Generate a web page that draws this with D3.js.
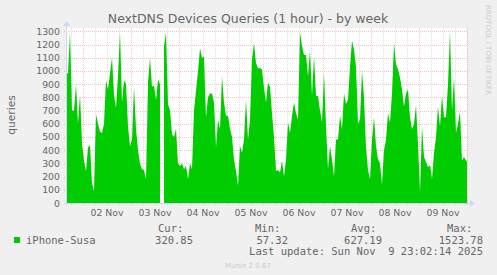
<!DOCTYPE html>
<html>
<head>
<meta charset="utf-8">
<title>NextDNS Devices Queries</title>
<script src="https://cdn.jsdelivr.net/npm/d3@7"></script>
<style>
  * { margin: 0; padding: 0; }
  body { background: #F0F0F0; }
  svg { display: block; }
  text { font-family: "DejaVu Sans", sans-serif; fill: #666; }
  .mono { font-family: "DejaVu Sans Mono", monospace; }
</style>
</head>
<body>
<div id="chart"></div>
<script>
// hourly samples, first one at 01 Nov 16:00 (null = no data)
var startTime = Date.UTC(2025, 10, 1, 16);
var queries = [
  980, 1290, 700, 700, 900, 600, 820, 450, 320, 240,
  420, 440, 150, 90, 670, 600, 540, 530, 600, 930,
  860, 980, 1100, 820, 720, 960, 1290, 760, 930, 900,
  580, 430, 480, 880, 560, 400, 300, 255, 250, 180,
  910, 1100, 880, 890, 780, 935, 900, null, 1190, 1290,
  750, 700, 520, 500, 560, 300, 280, 300, 255, 280,
  180, 300, 255, 700, 850, 1000, 1170, 1100, 1110, 650,
  800, 830, 830, 760, 420, 630, 560, 960, 760, 660,
  660, 560, 500, 330, 240, 130, 430, 380, 480, 780,
  480, 630, 1090, 1210, 1060, 1020, 1020, 1010, 870, 760,
  910, 880, 680, 500, 240, 250, 230, 320, 200, 330,
  610, 530, 660, 760, 680, 630, 1290, 1190, 1120, 1120,
  960, 1150, 810, 1110, 810, 810, 700, 610, 985, 580,
  255, 430, 330, 200, 480, 480, 660, 560, 830, 750,
  780, 1030, 1230, 1160, 1030, 600, 630, 1000, 800, 420,
  250, 180, 480, 650, 430, 330, 300, 140, 400, 480,
  680, 610, 830, 1210, 1050, 1010, 950, 860, 730, 830,
  860, 650, 560, 600, 740, 450, 80, 580, 350, 310,
  270, 290, 180, 380, 500, 730, 580, 810, 650, 650,
  900, 1300, 700, 950, 530, 600, 690, 320, 350, 320
];
var yTicks = d3.range(0, 1301, 100);
var dayLabels = ["02 Nov", "03 Nov", "04 Nov", "05 Nov", "06 Nov", "07 Nov", "08 Nov", "09 Nov"];
var legendHead = ["Cur:", "Min:", "Avg:", "Max:"];
var legendVals = ["320.85", "57.32", "627.19", "1523.78"];

var W = 497, H = 275;
var pLeft = 67, pRight = 467, pTop = 28, pBottom = 203;

var svg = d3.select("#chart").append("svg")
    .attr("width", W).attr("height", H);

var x = d3.scaleUtc()
    .domain([new Date(startTime), new Date(startTime + queries.length * 3600e3)])
    .range([pLeft, pRight]);
var y = d3.scaleLinear().domain([0, 1325]).range([pBottom, pTop]);

// each sample sits in the middle of its hour
var pts = queries.map(function(v, i){ return {t: new Date(startTime + (i + 0.5) * 3600e3), v: v}; });
pts.unshift({t: x.domain()[0], v: queries[0]});
pts.push({t: x.domain()[1], v: queries[queries.length - 1]});

// canvas
svg.append("rect").attr("x", pLeft).attr("y", pTop)
   .attr("width", pRight - pLeft).attr("height", pBottom - pTop).attr("fill", "#fff");

// minor vertical grid (every 6h)
var g = svg.append("g");
g.selectAll("line.vmin").data(x.ticks(d3.utcHour.every(6)).filter(function(d){ return d.getUTCHours() != 0; }))
  .enter().append("line")
  .attr("x1", function(d){ return Math.round(x(d)) + 0.5; })
  .attr("x2", function(d){ return Math.round(x(d)) + 0.5; })
  .attr("y1", pTop).attr("y2", pBottom + 2)
  .attr("stroke", "rgba(143,143,143,0.3)").attr("stroke-dasharray", "1,1");

// major vertical grid (midnight)
var days = x.ticks(d3.utcDay.every(1));
g.selectAll("line.vmaj").data(days).enter().append("line")
  .attr("x1", function(d){ return Math.round(x(d)) + 0.5; })
  .attr("x2", function(d){ return Math.round(x(d)) + 0.5; })
  .attr("y1", pTop).attr("y2", pBottom + 3)
  .attr("stroke", "rgba(222,48,48,0.3)").attr("stroke-dasharray", "1,1");

// horizontal grid
g.selectAll("line.h").data(yTicks).enter().append("line")
  .attr("x1", pLeft - 3).attr("x2", pRight)
  .attr("y1", function(d){ return Math.round(y(d)) + 0.5; })
  .attr("y2", function(d){ return Math.round(y(d)) + 0.5; })
  .attr("stroke", "rgba(222,48,48,0.3)").attr("stroke-dasharray", "1,1");

// area
var area = d3.area()
    .defined(function(d){ return d.v != null; })
    .x(function(d){ return x(d.t); })
    .y0(y(0))
    .y1(function(d){ return y(Math.min(d.v, 1325)); });
svg.append("path").datum(pts).attr("d", area).attr("fill", "#00CC00");

// axes
var axisCol = "#CFD6F8";
svg.append("line").attr("x1", pLeft - 3).attr("x2", pRight + 4)
   .attr("y1", pBottom + 0.5).attr("y2", pBottom + 0.5).attr("stroke", axisCol);
svg.append("path").attr("d", "M" + (pRight + 3) + "," + (pBottom - 3) + "L" + (pRight + 8) + "," + (pBottom + 0.5) + "L" + (pRight + 3) + "," + (pBottom + 4) + "Z")
   .attr("fill", axisCol);
svg.append("line").attr("x1", pLeft - 0.5).attr("x2", pLeft - 0.5)
   .attr("y1", pBottom + 3).attr("y2", pTop - 3).attr("stroke", axisCol);
svg.append("path").attr("d", "M" + (pLeft - 4) + "," + (pTop - 2) + "L" + (pLeft - 0.5) + "," + (pTop - 7) + "L" + (pLeft + 3) + "," + (pTop - 2) + "Z")
   .attr("fill", axisCol);

// y labels
svg.append("g").selectAll("text").data(yTicks).enter().append("text")
  .attr("x", pLeft - 7).attr("y", function(d){ return y(d) + 3.5; })
  .attr("text-anchor", "end").attr("font-size", "9.33px")
  .text(function(d){ return d; });

// x labels at noon
svg.append("g").selectAll("text").data(dayLabels).enter().append("text")
  .attr("x", function(d, i){ return x(d3.utcHour.offset(days[i], 12)); })
  .attr("y", 216).attr("text-anchor", "middle").attr("font-size", "9.33px")
  .text(function(d){ return d; });

// title
svg.append("text").attr("x", 248).attr("y", 23).attr("text-anchor", "middle")
   .attr("font-size", "12.5px").text("NextDNS Devices Queries (1 hour) - by week");

// y axis title
svg.append("text").attr("transform", "translate(15,115) rotate(-90)")
   .attr("text-anchor", "middle").attr("font-size", "10.7px").text("queries");

// watermark
svg.append("text").attr("transform", "translate(486,5) rotate(90)")
   .attr("font-size", "7px").style("fill", "#ccc").text("RRDTOOL / TOBI OETIKER");

// legend
svg.append("rect").attr("x", 14).attr("y", 237).attr("width", 6).attr("height", 6).attr("fill", "#00CC00");
svg.append("text").attr("class", "mono").attr("x", 26).attr("y", 244)
   .attr("font-size", "10.5px").text("iPhone-Susa");
var headX = [158, 255, 351, 447];
var valEnd = [193, 288, 382, 483];
svg.append("g").selectAll("text").data(legendHead).enter().append("text")
  .attr("class", "mono").attr("x", function(d, i){ return headX[i]; }).attr("y", 232)
  .attr("font-size", "10.5px").text(function(d){ return d; });
svg.append("g").selectAll("text").data(legendVals).enter().append("text")
  .attr("class", "mono").attr("x", function(d, i){ return valEnd[i]; }).attr("y", 244)
  .attr("text-anchor", "end").attr("font-size", "10.5px").text(function(d){ return d; });
svg.append("text").attr("class", "mono").attr("x", 483).attr("y", 255)
   .attr("text-anchor", "end").attr("font-size", "10.5px")
   .style("white-space", "pre").text("Last update: Sun Nov  9 23:02:14 2025");
svg.append("text").attr("x", 248).attr("y", 268).attr("text-anchor", "middle")
   .attr("font-size", "7px").style("fill", "#ccc").text("Munin 2.0.67");
</script>
</body>
</html>
